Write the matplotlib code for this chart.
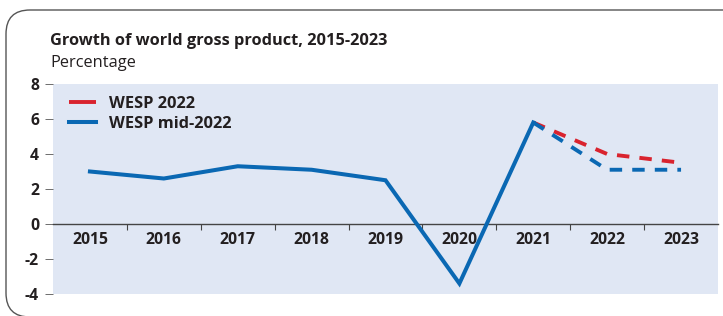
import matplotlib.pyplot as plt
from matplotlib.patches import FancyBboxPatch
from matplotlib.transforms import IdentityTransform

years = ['2015', '2016', '2017', '2018', '2019', '2020', '2021', '2022', '2023']
history = [3.0, 2.6, 3.3, 3.1, 2.5, -3.4, 5.8]
wesp_2022 = [5.8, 4.0, 3.5]
wesp_mid_2022 = [5.8, 3.1, 3.1]

BLUE = '#0a68b3'
RED = '#d9232e'
TXT = '#231f20'
BG = '#e0e7f4'

plt.rcParams['font.family'] = ['Open Sans', 'DejaVu Sans']

W, H = 723, 316
fig = plt.figure(figsize=(W / 100, H / 100), dpi=100)

# rounded frame around the panel (pixel coords, origin bottom-left)
frame = FancyBboxPatch((6, -1), 760, H - 10 + 1,
                       boxstyle='round,pad=0,rounding_size=24',
                       transform=IdentityTransform(), fill=False,
                       edgecolor='#555555', linewidth=1.0, clip_on=False)
fig.patches.append(frame)

ax = fig.add_axes([53 / W, (H - 294) / H, (718 - 53) / W, (294 - 84) / H])
ax.set_facecolor(BG)

x_hist = list(range(len(history)))
x_fc = list(range(len(history) - 1, len(years)))

ax.plot(x_fc, wesp_2022, color=RED, lw=2.8, dashes=(3.2, 2.6), solid_capstyle='butt',
        label='WESP 2022', zorder=3)
ax.plot(x_fc, wesp_mid_2022, color=BLUE, lw=2.8, dashes=(3.2, 2.6), zorder=3)
ax.plot(x_hist, history, color=BLUE, lw=2.9, solid_joinstyle='miter',
        label='WESP mid-2022', zorder=4)

ax.set_xlim(-0.5, len(years) - 0.5)
ax.set_ylim(-4, 8)

for s in ['top', 'right', 'left']:
    ax.spines[s].set_visible(False)
ax.spines['bottom'].set_position(('data', 0))
ax.spines['bottom'].set_color('#444444')
ax.spines['bottom'].set_linewidth(1.0)

ax.set_xticks(range(len(years)))
ax.set_xticklabels(years, fontsize=11.3, fontweight='bold', color=TXT)
ax.set_xticks([i + 0.5 for i in range(len(years) - 1)], minor=True)
ax.tick_params(axis='x', which='major', length=0, pad=6)
ax.tick_params(axis='x', which='minor', length=4, width=0.8, color='#444444', direction='out')

ax.set_yticks(range(-4, 9, 2))
ax.set_yticklabels([str(v) for v in range(-4, 9, 2)], fontsize=11.3, fontweight='bold', color=TXT)
ax.tick_params(axis='y', length=6, width=0.6, color='#555555', pad=4)

h, l = ax.get_legend_handles_labels()
leg = ax.legend(h, l, loc='upper left', frameon=False, fontsize=11.8,
                handlelength=1.6, handletextpad=0.8, borderaxespad=0.2,
                labelspacing=0.25, bbox_to_anchor=(0.01, 0.99))
for t in leg.get_texts():
    t.set_fontweight('bold')
    t.set_color(TXT)
for ln in leg.get_lines():
    ln.set_linestyle('-')

fig.text(50 / W, 1 - 41 / H, 'Growth of world gross product, 2015-2023',
         fontsize=11.8, fontweight='bold', color=TXT, va='center')
fig.text(50 / W, 1 - 63 / H, 'Percentage', fontsize=11.8, color=TXT, va='center')

fig.savefig('out.png', dpi=100)
